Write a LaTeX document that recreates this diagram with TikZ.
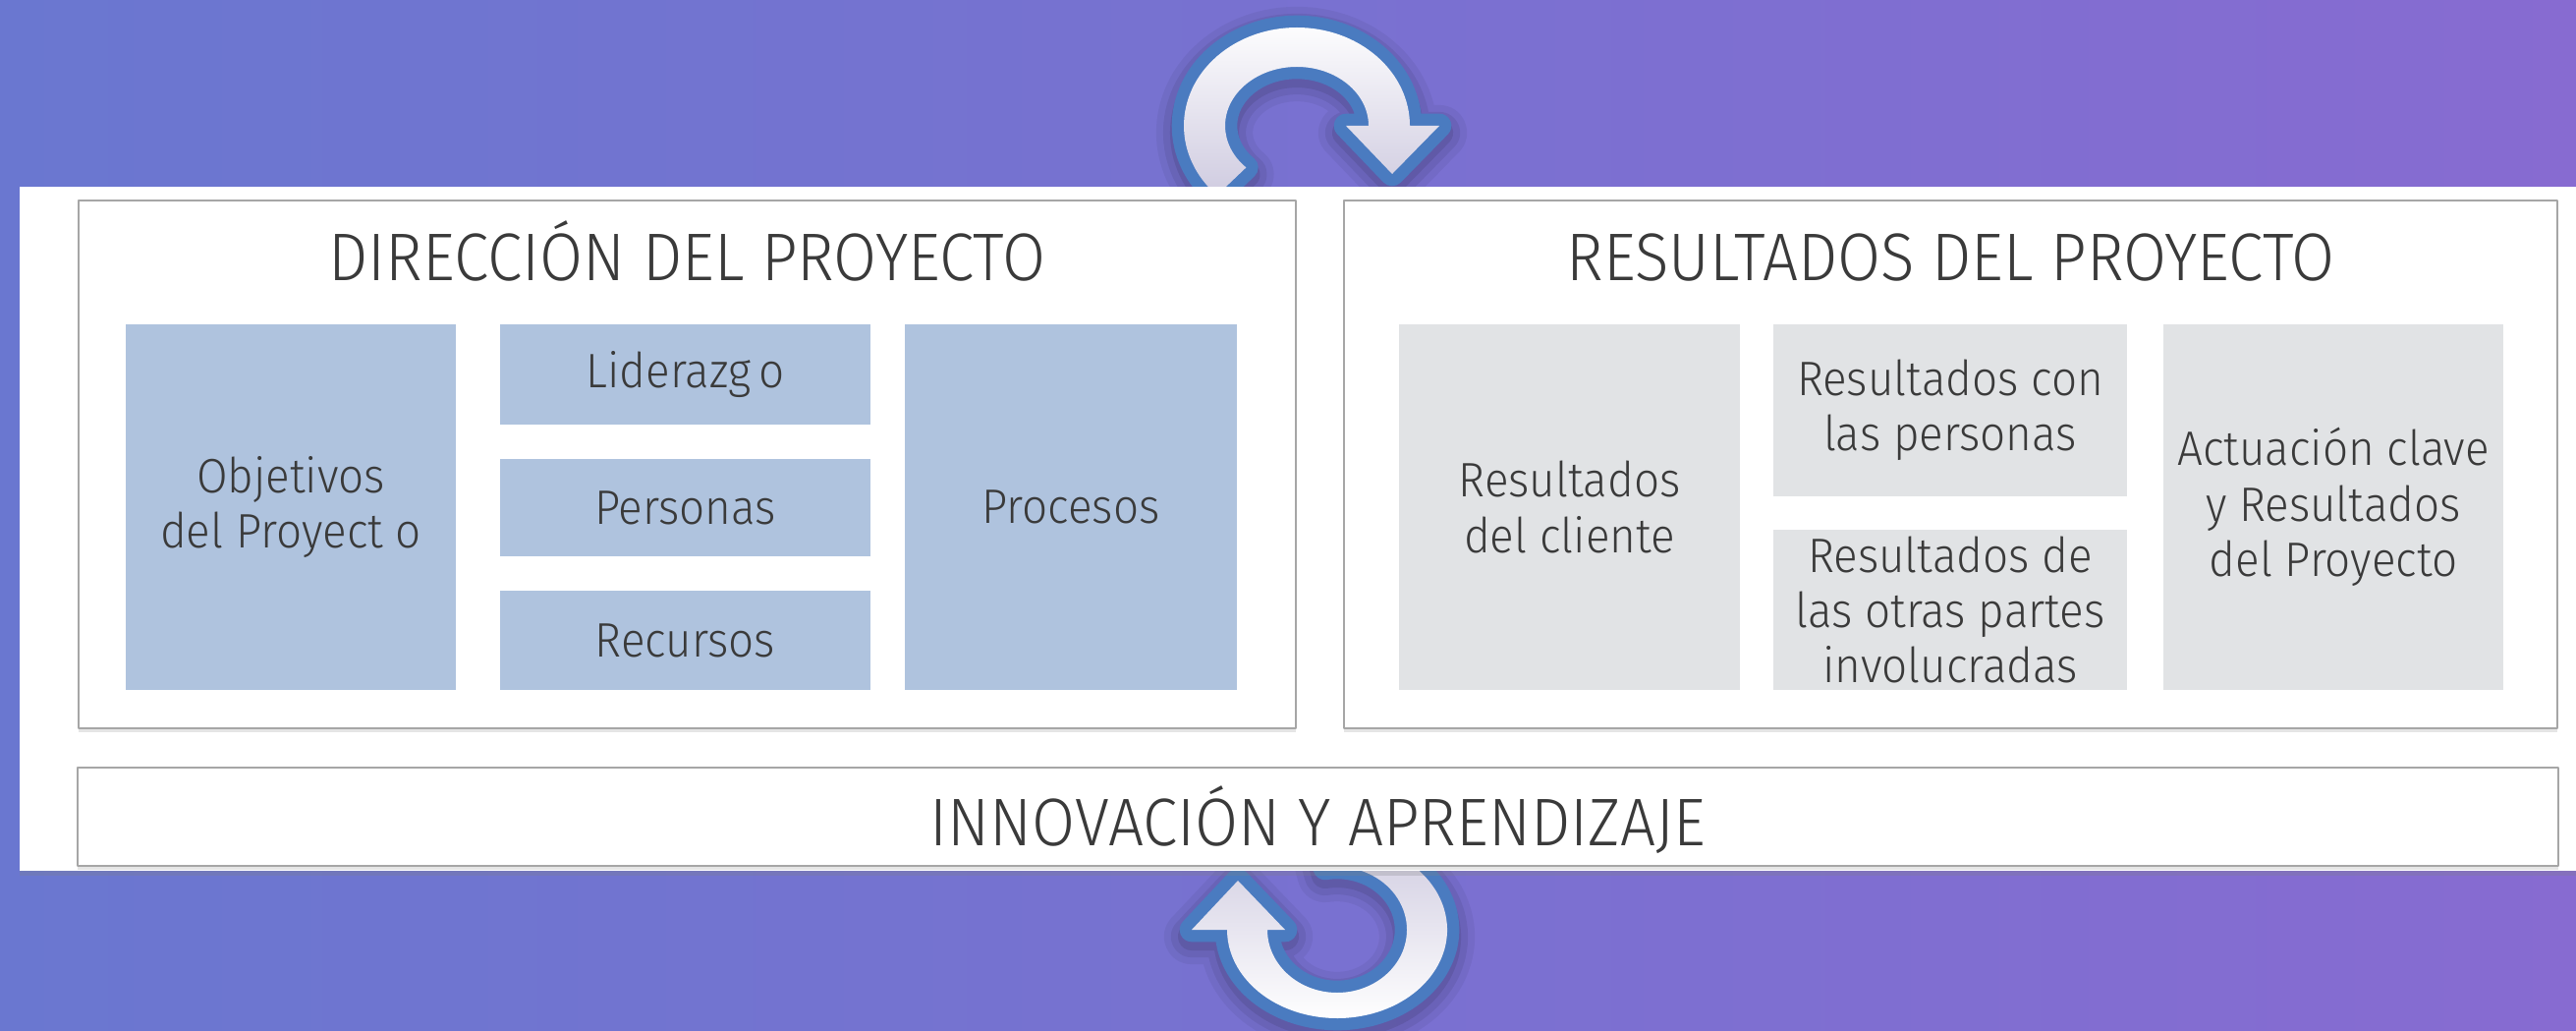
\documentclass[tikz,border=0pt]{standalone}
\usepackage{fontspec}
\setmainfont{Fira Sans Light}[FakeStretch=0.93]
\usetikzlibrary{shadows}

\definecolor{bgleft}{HTML}{6A77D0}
\definecolor{bgright}{HTML}{876BD1}
\definecolor{ringblue}{HTML}{4A7BC0}
\definecolor{ringgray}{HTML}{CFCBE0}
\definecolor{dirfill}{HTML}{AFC3DE}
\definecolor{resfill}{HTML}{E1E3E5}
\definecolor{textgray}{HTML}{3A3A3A}
\definecolor{framegray}{HTML}{A6A6A6}

% ring arrows (drawn before the panel, which hides their tails)
\def\toparrow{(1320,920) ++(225:115 and 100)
  arc[start angle=225,end angle=0,x radius=115,y radius=100]
  -- (1465,920) -- (1417,871) -- (1370,920) -- (1393,920)
  arc[start angle=0,end angle=225,x radius=73,y radius=60] -- cycle}
\def\botarrow{(1361,102) ++(100:112 and 90)
  arc[start angle=100,end angle=-180,x radius=112,y radius=90]
  -- (1213,102) -- (1260,152) -- (1308,102) -- (1290,102)
  arc[start angle=-180,end angle=100,x radius=71,y radius=64] -- cycle}

\begin{document}
\begin{tikzpicture}[x=0.01cm,y=0.01cm,line join=round,
    frame/.style={draw=framegray,line width=0.6pt,fill=white,
      drop shadow={shadow xshift=0pt,shadow yshift=-1.2pt,opacity=0.2}},
    title/.style={anchor=base,text=textgray,font=\fontsize{19.5}{23}\selectfont},
    cell/.style={text=textgray,align=center,inner sep=0pt,
      font=\fontsize{14}{16}\selectfont},
    dir box/.style={cell,fill=dirfill},
    res box/.style={cell,fill=resfill}]

  \shade[left color=bgleft,right color=bgright] (0,0) rectangle (2622,1048);
  \useasboundingbox (0,0) rectangle (2622,1048);

  % shadows and rings
  \foreach \w/\o in {16/0.05,12/0.07,8/0.09} {
    \draw[black,opacity=\o,line width=\w pt,shift={(0,-7)}] \toparrow;
    \draw[black,opacity=\o,line width=\w pt,shift={(0,-7)}] \botarrow;
  }
  \draw[ringblue,line width=7pt] \toparrow;
  \shade[top color=white,bottom color=ringgray] \toparrow;
  \draw[ringblue,line width=7pt] \botarrow;
  \shade[top color=ringgray,bottom color=white] \botarrow;

  % panel
  \fill[white,drop shadow={shadow xshift=0pt,shadow yshift=-1.5pt,opacity=0.25}]
    (20,162) rectangle (2622,858);

  \node[frame,minimum width=12.39cm,minimum height=5.37cm] (dir) at (699.5,575.5) {};
  \node[frame,minimum width=12.35cm,minimum height=5.37cm] (res) at (1985.5,575.5) {};
  \node[frame,minimum width=25.23cm,minimum height=1.00cm] (inn) at (1341.5,217) {};

  \node[title] (dirt) at (699.5,762) {DIRECCIÓN DEL PROYECTO};
  \node[title] (rest) at (1985.5,762) {RESULTADOS DEL PROYECTO};
  \node[title] (innt) at (1341.5,188) {INNOVACIÓN Y APRENDIZAJE};

  \node[dir box,minimum width=3.36cm,minimum height=3.72cm] (obj) at (296,532) {Objetivos\\del Proyect o};
  \node[dir box,minimum width=3.77cm,minimum height=1.02cm] (lid) at (697.5,667) {Liderazg\,o};
  \node[dir box,minimum width=3.77cm,minimum height=0.99cm] (per) at (697.5,531.5) {Personas};
  \node[dir box,minimum width=3.77cm,minimum height=1.01cm] (rec) at (697.5,396.5) {Recursos};
  \node[dir box,minimum width=3.38cm,minimum height=3.72cm] (pro) at (1090,532) {Procesos};

  \node[res box,minimum width=3.47cm,minimum height=3.72cm] (cli) at (1597.5,532) {Resultados\\del cliente};
  \node[res box,minimum width=3.60cm,minimum height=1.75cm] (rpe) at (1985,630.5) {Resultados con\\las personas};
  \node[res box,minimum width=3.60cm,minimum height=1.63cm] (rot) at (1985,427.5) {Resultados de\\las otras partes\\involucradas};
  \node[res box,minimum width=3.46cm,minimum height=3.72cm] (act) at (2375,532) {Actuación clave\\y Resultados\\del Proyecto};

\end{tikzpicture}
\end{document}
